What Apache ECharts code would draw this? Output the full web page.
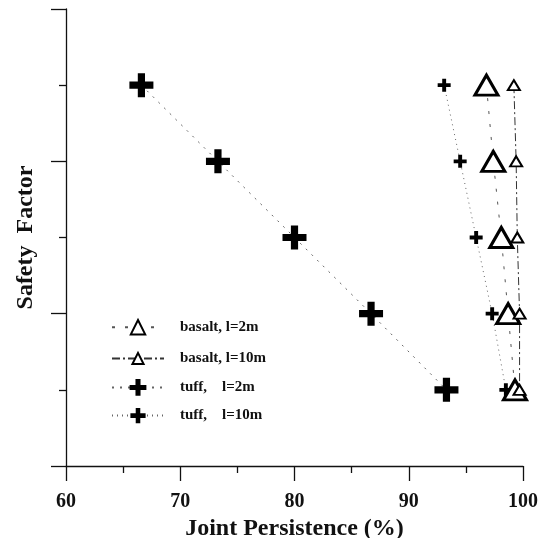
<!DOCTYPE html>
<html>
<head>
<meta charset="utf-8">
<script src="https://cdn.jsdelivr.net/npm/echarts@6/dist/echarts.min.js"></script>
<style>
  html, body { margin: 0; padding: 0; background: #fff; }
  #chart { width: 547px; height: 538px; }
</style>
</head>
<body>
<div id="chart"></div>
<script>
// safety factor levels (axis has no labels)
const levels = [5, 4, 3, 2, 1];
const basalt2 = [96.8, 97.4, 98.1, 98.7, 99.3];
const basalt10 = [99.2, 99.4, 99.5, 99.7, 99.7];
const tuff2 = [66.6, 73.3, 80.0, 86.7, 93.3];
const tuff10 = [93.1, 94.5, 95.9, 97.3, 98.5];
const xTicks = [60, 70, 80, 90, 100];

const cross = "path://M7,0 H13 V7 H20 V13 H13 V20 H7 V13 H0 V7 H7 Z";
const font = "'Liberation Serif', 'Times New Roman', serif";

function pairs(xs) {
  return xs.map((x, i) => [x, levels[i]]);
}

let mychart = echarts.init(document.getElementById("chart"));

function legendItem(name, top, h) {
  return {
    data: [name],
    left: 111,
    top: top,
    padding: 0,
    itemWidth: 52,
    itemHeight: h,
    selectedMode: false,
    textStyle: {
      fontFamily: font,
      fontWeight: "bold",
      fontSize: 15,
      color: "#111",
      padding: [0, 0, 0, 11],
    },
  };
}

mychart.setOption({
  animation: false,
  backgroundColor: "#fff",
  grid: { left: 66, right: 24, top: 9, bottom: 72, outerBoundsMode: "none" },
  legend: [
    legendItem("basalt, l=2m", 319, 18),
    legendItem("basalt, l=10m", 351, 14),
    legendItem("tuff,    l=2m", 379, 21),
    legendItem("tuff,    l=10m", 408, 19),
  ],
  xAxis: {
    type: "value",
    min: xTicks[0],
    max: xTicks[xTicks.length - 1],
    interval: 10,
    name: "Joint Persistence (%)",
    nameLocation: "middle",
    nameGap: 45,
    nameTextStyle: { fontFamily: font, fontWeight: "bold", fontSize: 24, color: "#111" },
    axisLine: { lineStyle: { color: "#111", width: 1.3 } },
    axisTick: { length: 15, lineStyle: { color: "#111", width: 1.3 } },
    minorTick: { show: true, splitNumber: 2, length: 7, lineStyle: { color: "#111", width: 1.3 } },
    axisLabel: { margin: 26, fontFamily: font, fontWeight: "bold", fontSize: 20, color: "#111" },
    splitLine: { show: false },
  },
  yAxis: {
    type: "value",
    min: 0,
    max: 6,
    interval: 2,
    name: "Safety  Factor",
    nameLocation: "middle",
    nameGap: 28,
    nameTextStyle: { fontFamily: font, fontWeight: "bold", fontSize: 24, color: "#111" },
    axisLine: { lineStyle: { color: "#111", width: 1.3 } },
    axisTick: { length: 15, lineStyle: { color: "#111", width: 1.3 } },
    minorTick: { show: true, splitNumber: 2, length: 7, lineStyle: { color: "#111", width: 1.3 } },
    axisLabel: { show: false },
    splitLine: { show: false },
  },
  series: [
    {
      name: "basalt, l=2m",
      type: "line",
      data: pairs(basalt2),
      symbol: "triangle",
      symbolSize: [23, 20],
      itemStyle: { color: "#fff", borderColor: "#000", borderWidth: 3 },
      lineStyle: { color: "#555", width: 1, type: [3, 10] },
      z: 3,
    },
    {
      name: "basalt, l=10m",
      type: "line",
      data: pairs(basalt10),
      symbol: "triangle",
      symbolSize: [12, 10],
      itemStyle: { color: "#fff", borderColor: "#000", borderWidth: 2 },
      lineStyle: { color: "#333", width: 1, type: [8, 3, 2, 3] },
      z: 3,
    },
    {
      name: "tuff,    l=2m",
      type: "line",
      data: pairs(tuff2),
      symbol: cross,
      symbolSize: 24,
      itemStyle: { color: "#000" },
      lineStyle: { color: "#666", width: 1, type: [2, 6] },
      z: 2,
    },
    {
      name: "tuff,    l=10m",
      type: "line",
      data: pairs(tuff10),
      symbol: cross,
      symbolSize: 13,
      itemStyle: { color: "#000" },
      lineStyle: { color: "#666", width: 1, type: [1, 4] },
      z: 2,
    },
  ],
});
</script>
</body>
</html>
